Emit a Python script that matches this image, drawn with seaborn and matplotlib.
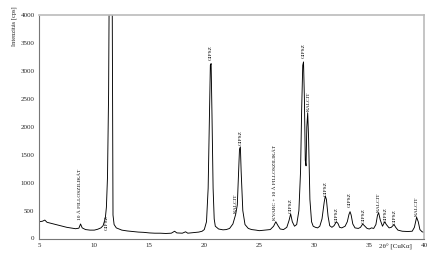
import matplotlib
matplotlib.use("Agg")
import matplotlib.pyplot as plt
import matplotlib.transforms as mtransforms
import seaborn as sns
import pandas as pd

# ---- data ----
two_theta = [5.0, 5.3, 5.5, 5.7, 6.0, 6.5, 7.0, 7.5, 8.0, 8.3, 8.6, 8.75, 8.9, 9.2, 9.6,
             10.0, 10.3, 10.6, 10.8, 11.0, 11.1, 11.2, 11.3, 11.4, 11.5, 11.6, 11.65, 11.7,
             11.8, 12.0, 12.5, 13.0, 13.5, 14.0, 14.5, 15.0, 15.5, 16.0, 16.5, 17.0, 17.3,
             17.5, 18.0, 18.3, 18.5, 19.0, 19.5, 19.8, 20.0, 20.2, 20.35, 20.45, 20.55,
             20.62, 20.7, 20.8, 20.9, 21.0, 21.3, 21.7, 22.0, 22.3, 22.6, 22.85, 23.0,
             23.1, 23.2, 23.28, 23.35, 23.5, 23.7, 24.0, 24.3, 24.7, 25.0, 25.5, 26.0,
             26.3, 26.5, 26.7, 26.9, 27.2, 27.5, 27.7, 27.85, 28.0, 28.2, 28.4, 28.6,
             28.75, 28.85, 28.95, 29.02, 29.1, 29.18, 29.25, 29.32, 29.4, 29.48, 29.6,
             29.75, 29.9, 30.1, 30.3, 30.5, 30.7, 30.9, 31.0, 31.1, 31.25, 31.4, 31.6,
             31.8, 32.0, 32.15, 32.3, 32.5, 32.8, 33.0, 33.15, 33.25, 33.35, 33.5, 33.7,
             34.0, 34.2, 34.4, 34.55, 34.8, 35.0, 35.2, 35.4, 35.6, 35.75, 35.85, 36.0,
             36.2, 36.4, 36.55, 36.8, 37.0, 37.25, 37.4, 37.6, 38.0, 38.5, 38.9, 39.1,
             39.3, 39.45, 39.6, 39.8, 40.0]
intensity = [300, 310, 330, 290, 275, 250, 225, 200, 185, 175, 185, 260, 190, 160, 150,
             150, 165, 190, 230, 360, 560, 1100, 2600, 6000, 8000, 6000, 3000, 420,
             250, 190, 150, 135, 125, 115, 110, 100, 95, 95, 90, 95, 130,
             100, 95, 120, 95, 105, 115, 130, 160, 300, 900, 2000, 3100,
             3130, 2200, 900, 350, 220, 170, 155, 160, 180, 260, 430, 600,
             1100, 1600, 1640, 1200, 500, 250, 180, 160, 150, 140, 150, 160,
             220, 300, 230, 170, 160, 200, 320, 440, 300, 220, 250, 500,
             1200, 2300, 3100, 3160, 2500, 1400, 1300, 2000, 2250, 1800, 700,
             300, 220, 200, 190, 220, 350, 650, 760, 700, 400, 230, 200,
             230, 300, 270, 200, 190, 220, 300, 430, 480, 420, 260, 190,
             180, 200, 260, 230, 180, 170, 190, 180, 250, 420, 460, 330,
             220, 300, 250, 190, 200, 250, 200, 150, 130, 125, 130, 200,
             380, 300, 160, 120, 110]

label_text = ["10 Å FILLOSZILIKÁT", "GIPSZ", "GIPSZ", "KALCIT", "GIPSZ",
              "KVARC + 10 Å FILLOSZILIKÁT", "GIPSZ", "GIPSZ", "KALCIT", "GIPSZ",
              "GIPSZ", "GIPSZ", "GIPSZ", "KALCIT", "GIPSZ", "GIPSZ", "KALCIT"]
label_x = [8.72, 11.15, 20.6, 22.85, 23.3, 26.45, 27.85, 29.0, 29.5, 31.05,
           32.0, 33.25, 34.45, 35.88, 36.45, 37.27, 39.3]
label_y = [330, 150, 3200, 460, 1680, 340, 460, 3230, 2280, 760,
           290, 560, 280, 480, 300, 260, 400]

x_ticks = [5, 10, 15, 20, 25, 30, 35, 40]
y_ticks = [0, 500, 1000, 1500, 2000, 2500, 3000, 3500, 4000]

sns.set_style("white")
plt.rcParams['font.family'] = ['Liberation Serif', 'DejaVu Serif']

fig = plt.figure(figsize=(4.46, 2.63), dpi=100)
ax = fig.add_axes([39.3 / 446, 1 - 238.5 / 263, (424.3 - 39.3) / 446, (238.5 - 15) / 263])

df = pd.DataFrame({"x": two_theta, "y": intensity})
sns.lineplot(data=df, x="x", y="y", ax=ax, color="black", linewidth=0.65, sort=False)

ax.set_xlim(5, 40)
ax.set_ylim(0, 4000)
ax.set_xticks(x_ticks)
ax.set_yticks(y_ticks)
ax.set_xticklabels([str(v) for v in x_ticks])
ax.set_yticklabels([str(v) for v in y_ticks])
ax.tick_params(axis="both", labelsize=5, length=2, width=0.6, pad=1.5, color="#444",
               direction="out")
ax.set_xlabel("")
ax.set_ylabel("")

for side in ["left", "bottom"]:
    ax.spines[side].set_color("#777")
    ax.spines[side].set_linewidth(0.8)
    ax.spines[side].set_linestyle((0, (1, 1)))
for side in ["top", "right"]:
    ax.spines[side].set_color("#bbbbbb")
    ax.spines[side].set_linewidth(1.2)

for t, lx, ly in zip(label_text, label_x, label_y):
    ax.text(lx, ly, t, rotation=90, ha="center", va="bottom", fontsize=3.9, color="black")

trans = mtransforms.blended_transform_factory(ax.transData, ax.transAxes)
ax.text(37.4, -0.022, "2θ° [CuKα]", transform=trans, ha="center", va="top", fontsize=5)

fig.text(14.5 / 446, 1 - 6 / 263, "Intenzitás [cps]", rotation=90, ha="center", va="top",
         fontsize=4.6)

fig.savefig("out.png", dpi=100)
